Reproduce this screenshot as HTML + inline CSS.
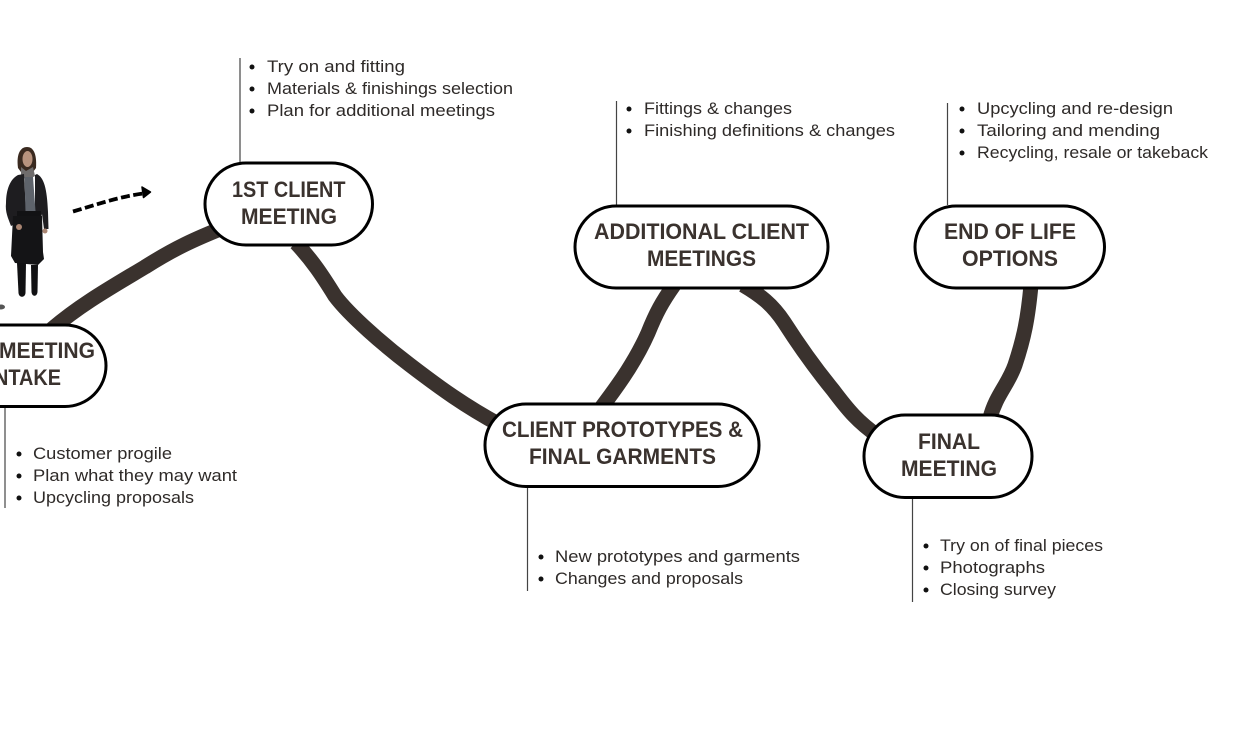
<!DOCTYPE html>
<html><head><meta charset="utf-8"><style>
html,body{margin:0;padding:0;background:#fff;width:1246px;height:740px;overflow:hidden}
svg{display:block}
.h{font:bold 22px "Liberation Sans",sans-serif;fill:#3a322e}
.t{font:17px "Liberation Sans",sans-serif;fill:#2e2a28}
.c{fill:none;stroke:#3a322e;stroke-width:15}
.n{fill:#fff;stroke:#000;stroke-width:3}
.v{stroke:#444;stroke-width:1.2}
</style></head><body>
<svg width="1246" height="740" viewBox="0 0 1246 740" xmlns="http://www.w3.org/2000/svg">
<rect width="1246" height="740" fill="#fff"/>
<!-- connectors -->
<path class="c" d="M52 329C80 305 110 288 145 267C175 248 195 239 225 227"/>
<path class="c" d="M296 243C312 260 322 275 335 296C350 316 385 346 410 365C440 388 465 406 500 425"/>
<path class="c" d="M601 408C620 383 636 360 648 333C656 313 662 302 674 285"/>
<path class="c" d="M743 285C760 295 772 304 784 322C800 347 815 368 833 390C848 410 858 422 878 436"/>
<path class="c" d="M990 418C996 395 1008 385 1015 365C1024 338 1028 318 1031 285"/>
<!-- vertical lines -->
<line class="v" x1="240" y1="58" x2="240" y2="162"/>
<line class="v" x1="616.500" y1="101" x2="616.500" y2="205"/>
<line class="v" x1="947.500" y1="103" x2="947.500" y2="205"/>
<line class="v" x1="5" y1="406" x2="5" y2="508"/>
<line class="v" x1="527.500" y1="487" x2="527.500" y2="591"/>
<line class="v" x1="912.500" y1="498" x2="912.500" y2="602"/>
<!-- nodes -->
<rect class="n" x="205" y="163" width="167.500" height="82" rx="41"/>
<rect class="n" x="575" y="206" width="253" height="82" rx="41"/>
<rect class="n" x="915" y="206" width="189.500" height="82" rx="41"/>
<rect class="n" x="-90" y="325" width="196" height="81.500" rx="41"/>
<rect class="n" x="485" y="404" width="274" height="82.500" rx="41"/>
<rect class="n" x="864" y="415" width="168" height="82.500" rx="41"/>
<!-- node text -->
<text class="h" x="232" y="197" textLength="113.500" lengthAdjust="spacingAndGlyphs">1ST CLIENT</text>
<text class="h" x="241" y="224" textLength="96" lengthAdjust="spacingAndGlyphs">MEETING</text>
<text class="h" x="594" y="239" textLength="215" lengthAdjust="spacingAndGlyphs">ADDITIONAL CLIENT</text>
<text class="h" x="647" y="266" textLength="109" lengthAdjust="spacingAndGlyphs">MEETINGS</text>
<text class="h" x="944" y="239" textLength="132" lengthAdjust="spacingAndGlyphs">END OF LIFE</text>
<text class="h" x="962" y="266" textLength="96" lengthAdjust="spacingAndGlyphs">OPTIONS</text>
<text class="h" x="-1" y="358" textLength="96" lengthAdjust="spacingAndGlyphs">MEETING</text>
<text class="h" x="-6" y="385" textLength="67" lengthAdjust="spacingAndGlyphs">NTAKE</text>
<text class="h" x="502" y="437" textLength="241" lengthAdjust="spacingAndGlyphs">CLIENT PROTOTYPES &amp;</text>
<text class="h" x="529" y="464" textLength="187" lengthAdjust="spacingAndGlyphs">FINAL GARMENTS</text>
<text class="h" x="918" y="449" textLength="62" lengthAdjust="spacingAndGlyphs">FINAL</text>
<text class="h" x="901" y="476" textLength="96" lengthAdjust="spacingAndGlyphs">MEETING</text>
<!-- lists -->
<g fill="#111">
<circle cx="252" cy="67" r="2.500"/><circle cx="252" cy="89" r="2.500"/><circle cx="252" cy="111" r="2.500"/>
<circle cx="629" cy="109" r="2.500"/><circle cx="629" cy="131" r="2.500"/>
<circle cx="962" cy="109" r="2.500"/><circle cx="962" cy="131" r="2.500"/><circle cx="962" cy="153" r="2.500"/>
<circle cx="19" cy="454" r="2.500"/><circle cx="19" cy="476" r="2.500"/><circle cx="19" cy="498" r="2.500"/>
<circle cx="541" cy="557" r="2.500"/><circle cx="541" cy="579" r="2.500"/>
<circle cx="926" cy="546" r="2.500"/><circle cx="926" cy="568" r="2.500"/><circle cx="926" cy="590" r="2.500"/>
</g>
<text class="t" x="267" y="72" textLength="138" lengthAdjust="spacingAndGlyphs">Try on and fitting</text>
<text class="t" x="267" y="94" textLength="246" lengthAdjust="spacingAndGlyphs">Materials &amp; finishings selection</text>
<text class="t" x="267" y="116" textLength="228" lengthAdjust="spacingAndGlyphs">Plan for additional meetings</text>
<text class="t" x="644" y="114" textLength="148" lengthAdjust="spacingAndGlyphs">Fittings &amp; changes</text>
<text class="t" x="644" y="136" textLength="251" lengthAdjust="spacingAndGlyphs">Finishing definitions &amp; changes</text>
<text class="t" x="977" y="114" textLength="196" lengthAdjust="spacingAndGlyphs">Upcycling and re-design</text>
<text class="t" x="977" y="136" textLength="183" lengthAdjust="spacingAndGlyphs">Tailoring and mending</text>
<text class="t" x="977" y="158" textLength="231" lengthAdjust="spacingAndGlyphs">Recycling, resale or takeback</text>
<text class="t" x="33" y="459" textLength="139" lengthAdjust="spacingAndGlyphs">Customer progile</text>
<text class="t" x="33" y="481" textLength="204" lengthAdjust="spacingAndGlyphs">Plan what they may want</text>
<text class="t" x="33" y="503" textLength="161" lengthAdjust="spacingAndGlyphs">Upcycling proposals</text>
<text class="t" x="555" y="562" textLength="245" lengthAdjust="spacingAndGlyphs">New prototypes and garments</text>
<text class="t" x="555" y="584" textLength="188" lengthAdjust="spacingAndGlyphs">Changes and proposals</text>
<text class="t" x="940" y="551" textLength="163" lengthAdjust="spacingAndGlyphs">Try on of final pieces</text>
<text class="t" x="940" y="573" textLength="105" lengthAdjust="spacingAndGlyphs">Photographs</text>
<text class="t" x="940" y="595" textLength="116" lengthAdjust="spacingAndGlyphs">Closing survey</text>
<!-- dashed arrow -->
<path d="M73 211.500C95 205 118 197 143 193.500" fill="none" stroke="#000" stroke-width="3.800" stroke-dasharray="9 3.500"/>
<path d="M142 187L150.500 192L143.500 197.500Z" fill="#000" stroke="#000" stroke-width="1.500" stroke-linejoin="round"/>
<!-- person -->
<path d="M18 168C16 153 21 147 27 147C33 147 37 153 36 168L33 172L21 172Z" fill="#3a2a20"/>
<ellipse cx="27.500" cy="159" rx="5" ry="8" fill="#b8937e"/>
<path d="M21 167L26 171L33 167L35 176L28 180L21 177Z" fill="#6f6c6c"/>
<path d="M18 175L24 174L26 212L35 212L35 175L37 174C44 178 47 188 48 212L48.500 229L44 229L42 214L41 218L13 218L15 224L11 226C8 218 5 212 6 203C6 190 10 179 18 175Z" fill="#1e1d20"/>
<path d="M24.500 177L33 177L35.500 211L25.500 212Z" fill="#5e636b"/>
<rect x="17" y="211" width="24" height="6" fill="#121214"/>
<path d="M13 216L42 216L43 252L44 259L38 265L15 263L11 256Z" fill="#141416"/>
<circle cx="19" cy="227" r="3" fill="#a98572"/>
<circle cx="45" cy="231" r="2.500" fill="#a98572"/>
<path d="M17 263H26L25.500 293C25 298 19 298 18.500 293Z" fill="#111113"/>
<path d="M31 265H38L37.500 292C37 297 32 297 31.500 292Z" fill="#111113"/>
<ellipse cx="1" cy="307" rx="4" ry="2.500" fill="#555"/>
</svg>
</body></html>
